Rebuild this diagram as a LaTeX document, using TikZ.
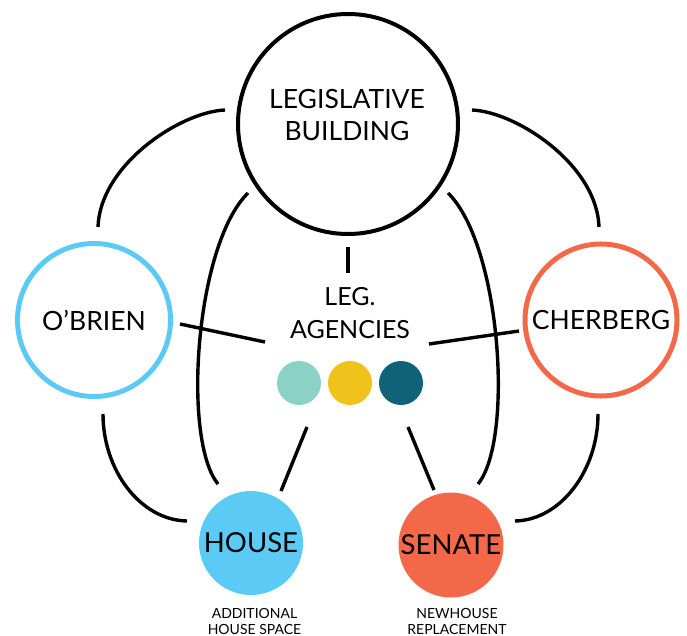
\documentclass[tikz,border=0pt]{standalone}
\usepackage{fontspec}
\setmainfont{Lato}
\definecolor{obblue}{HTML}{5BCBF5}
\definecolor{senred}{HTML}{F26849}
\definecolor{dotteal}{HTML}{8CD1C5}
\definecolor{dotyellow}{HTML}{F0C31C}
\definecolor{dotdark}{HTML}{0F6278}
\begin{document}
\begin{tikzpicture}[x=1pt,y=-1pt,
  conn/.style={line width=3.4pt},
  bigc/.style={circle,inner sep=0pt,align=center},
  dotc/.style={circle,inner sep=0pt,minimum size=44pt},
  bigfont/.style={font=\fontsize{26.5}{32}\selectfont},
  hsfont/.style={font=\fontsize{27.5}{32}\selectfont},
  smallfont/.style={font=\fontsize{14}{16}\selectfont},
  txt/.style={inner sep=0pt,align=center}]
\useasboundingbox (0,0) rectangle (687,636);
% main nodes
\node[bigc,draw=black,line width=4pt,minimum size=220pt] (lb) at (348,124) {};
\node[txt,bigfont] (lbt) at (347,115.5) {LEGISLATIVE\\BUILDING};
\node[bigc,draw=obblue,line width=5pt,minimum size=153pt,bigfont] (ob) at (94,320) {O’BRIEN};
\node[bigc,draw=senred,line width=5pt,minimum size=152pt,bigfont] (ch) at (601,320) {CHERBERG};
\node[bigc,fill=obblue,minimum size=104pt,hsfont] (ho) at (251,543) {HOUSE};
\node[bigc,fill=senred,minimum size=105pt,hsfont] (se) at (451,545) {SENATE};
\node[txt,font=\fontsize{25}{33}\selectfont] (ag) at (350,313) {LEG.\\AGENCIES};
\node[dotc,fill=dotteal] (d1) at (299,383) {};
\node[dotc,fill=dotyellow] (d2) at (350,383) {};
\node[dotc,fill=dotdark] (d3) at (401,383) {};
\node[txt,smallfont] (hol) at (254.5,621) {ADDITIONAL\\HOUSE SPACE};
\node[txt,smallfont] (sel) at (457,621) {NEWHOUSE\\REPLACEMENT};
% connector end points
\coordinate (lbL) at (225,110);
\coordinate (obT) at (98,227);
\coordinate (lbR) at (472,110);
\coordinate (chT) at (599,227);
\coordinate (obB) at (103,414);
\coordinate (hoL) at (187,521);
\coordinate (chB) at (598,414);
\coordinate (seR) at (515,521);
\coordinate (lbBL) at (248,193);
\coordinate (hoT) at (218,484);
\coordinate (lbBR) at (448,193);
\coordinate (seT) at (478,484);
\coordinate (obR) at (180,324);
\coordinate (agL) at (265,342);
\coordinate (agR) at (429,344);
\coordinate (chL) at (519,331);
\coordinate (d1B) at (307,427);
\coordinate (hoTR) at (281,491);
\coordinate (d3B) at (408,427);
\coordinate (seTL) at (434,490);
\coordinate (lbB) at (348,247);
\coordinate (agT) at (348,273);
% connectors
\draw[conn] (lbL) .. controls (180,112) and (100,165) .. (obT);
\draw[conn] (lbR) .. controls (517,112) and (597,165) .. (chT);
\draw[conn] (obB) .. controls (103,470) and (140,520) .. (hoL);
\draw[conn] (chB) .. controls (598,470) and (561,520) .. (seR);
\draw[conn] (lbBL) .. controls (195,245) and (182,440) .. (hoT);
\draw[conn] (lbBR) .. controls (501,245) and (514,440) .. (seT);
\draw[conn] (obR) -- (agL);
\draw[conn] (agR) -- (chL);
\draw[conn] (d1B) -- (hoTR);
\draw[conn] (d3B) -- (seTL);
\draw[conn] (lbB) -- (agT);
\end{tikzpicture}
\end{document}
